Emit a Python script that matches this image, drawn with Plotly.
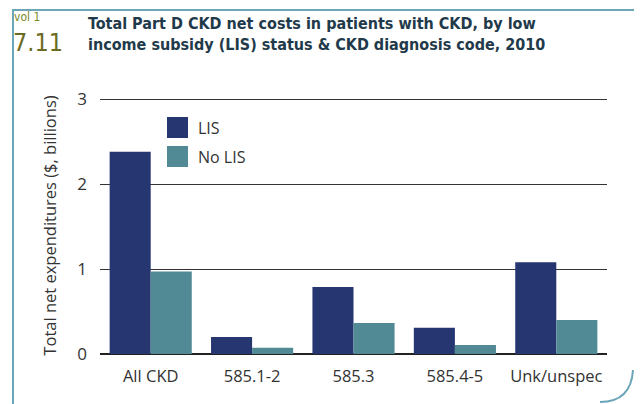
import plotly.graph_objects as go

categories = ["All CKD", "585.1-2", "585.3", "585.4-5", "Unk/unspec"]
lis = [2.38, 0.20, 0.79, 0.31, 1.08]
no_lis = [0.97, 0.075, 0.365, 0.105, 0.40]
series_names = ["LIS", "No LIS"]
colors = ["#263670", "#518a94"]

# page body has an 8px margin, so work in screen pixels and shift
O = 8
W, H = 634, 396
L, R, T, B = 92, 35, 89, 50
pw, ph = W - L - R, H - T - B
COND = "DejaVu Sans Condensed, Liberation Sans Narrow, sans-serif"


def px_x(x):
    return (x - O - L) / pw


def px_y(y):
    return (H - B - (y - O)) / ph


fig = go.Figure()
for name, vals, c in zip(series_names, [lis, no_lis], colors):
    fig.add_trace(go.Bar(x=categories, y=vals, name=name, marker_color=c,
                         marker_line_width=0, showlegend=False))

# custom legend swatches
for i, (name, c) in enumerate(zip(series_names, colors)):
    top = 117 + i * 29
    fig.add_shape(type="rect", xref="paper", yref="paper",
                  x0=px_x(167), x1=px_x(188), y0=px_y(top + 21), y1=px_y(top),
                  fillcolor=c, line_width=0)
    fig.add_annotation(xref="paper", yref="paper", x=px_x(196), y=px_y(top + 10.5),
                       text=name, showarrow=False, xanchor="left", yanchor="middle",
                       font=dict(size=16, color="#333333"))

# frame
fig.add_shape(type="path", xref="paper", yref="paper",
              path=f"M {px_x(13)},{px_y(420)} L {px_x(13)},{px_y(10)} L {px_x(650)},{px_y(10)}",
              line=dict(color="#6aa6b8", width=2))
fig.add_shape(type="path", xref="paper", yref="paper",
              path=f"M {px_x(600)},{px_y(402)} Q {px_x(631)},{px_y(402)} {px_x(633)},{px_y(370)}",
              line=dict(color="#6aa6b8", width=2))

# header
fig.add_annotation(xref="paper", yref="paper", x=px_x(12), y=px_y(8), text="vol 1",
                   showarrow=False, xanchor="left", yanchor="top",
                   font=dict(family=COND, size=12, color="#7a8a2a"))
fig.add_annotation(xref="paper", yref="paper", x=px_x(11), y=px_y(26), text="7.11",
                   showarrow=False, xanchor="left", yanchor="top",
                   font=dict(family=COND, size=25, color="#6b6b22"))
fig.add_annotation(xref="paper", yref="paper", x=px_x(86), y=px_y(12),
                   text="<b>Total Part D CKD net costs in patients with CKD, by low<br>income subsidy (LIS) status &amp; CKD diagnosis code, 2010</b>",
                   showarrow=False, xanchor="left", yanchor="top", align="left",
                   font=dict(family=COND, size=16, color="#1f3a4a"))

fig.update_layout(
    width=W, height=H,
    margin=dict(l=L, r=R, t=T, b=B),
    paper_bgcolor="white", plot_bgcolor="white",
    barmode="group", bargap=0.19, bargroupgap=0,
    font=dict(family="Open Sans, Noto Sans, sans-serif", size=16, color="#333333"),
)
fig.update_xaxes(showgrid=False, ticks="", showline=False, ticklabelstandoff=10,
                 tickfont=dict(size=16.5, color="#333333"))
fig.update_yaxes(range=[0, 3.025], tickvals=[0, 1, 2, 3], showgrid=True, gridcolor="#333333", gridwidth=1,
                 zeroline=True, zerolinecolor="#222222", zerolinewidth=1.5, showline=False,
                 ticks="", ticklabelstandoff=12,
                 title=dict(text="Total net expenditures ($, billions)", standoff=16,
                            font=dict(size=16.5, color="#333333")),
                 tickfont=dict(size=17, color="#333333"))

fig.write_html("out.html")
